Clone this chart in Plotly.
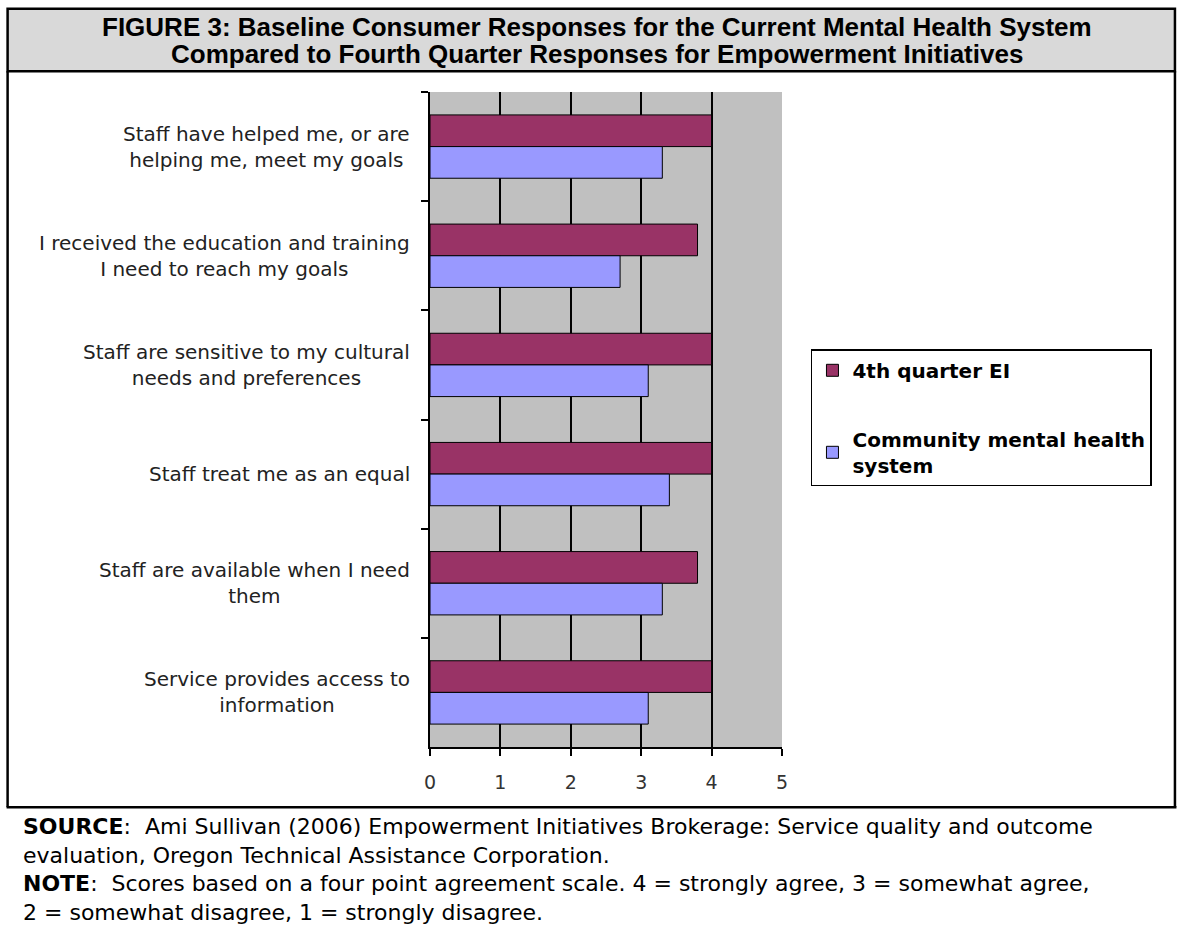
import plotly.graph_objects as go

# ---- data (top-to-bottom order as in the chart) ----
categories = [
    "Staff have helped me, or are<br>helping me, meet my goals",
    "I received the education and training<br>I need to reach my goals",
    "Staff are sensitive to my cultural<br>needs and preferences",
    "Staff treat me as an equal",
    "Staff are available when I need<br>them",
    "Service provides access to<br>information",
]
fourth_quarter_ei = [4.0, 3.8, 4.0, 4.0, 3.8, 4.0]
community_mhs = [3.3, 2.7, 3.1, 3.4, 3.3, 3.1]
x_ticks = [0, 1, 2, 3, 4, 5]

title_lines = [
    "FIGURE 3: Baseline Consumer Responses for the Current Mental Health System",
    "Compared to Fourth Quarter Responses for Empowerment Initiatives",
]
footer_lines = [
    "<b>SOURCE</b>:  Ami Sullivan (2006) Empowerment Initiatives Brokerage: Service quality and outcome",
    "evaluation, Oregon Technical Assistance Corporation.",
    "<b>NOTE</b>:  Scores based on a four point agreement scale. 4 = strongly agree, 3 = somewhat agree,",
    "2 = somewhat disagree, 1 = strongly disagree.",
]

# ---- layout geometry (pixels) ----
W, Hh = 1177, 928
L, R, T, B = 429.5, 782.0, 91.7, 746.7
PW, PH = R - L, B - T


def px(x):
    return (x - L) / PW


def py(y):
    return (B - y) / PH


fig = go.Figure()
fig.add_trace(go.Bar(
    y=categories, x=fourth_quarter_ei, orientation="h", name="4th quarter EI",
    marker=dict(color="#993366", line=dict(color="black", width=1)),
    legendgroup="a",
))
fig.add_trace(go.Bar(
    y=categories, x=community_mhs, orientation="h",
    name="Community mental health<br>system",
    marker=dict(color="#9999FF", line=dict(color="black", width=1)),
    legendgroup="b",
))

shapes = [
    # title band
    dict(type="rect", xref="paper", yref="paper", x0=px(6.5), x1=px(1175.5), y0=py(8.5), y1=py(71),
         fillcolor="#D9D9D9", line=dict(color="black", width=2.5), layer="below"),
    # chart frame sides
    dict(type="line", xref="paper", yref="paper", x0=px(6.5), x1=px(6.5), y0=py(71), y1=py(807),
         line=dict(color="black", width=2.5)),
    dict(type="line", xref="paper", yref="paper", x0=px(1175.5), x1=px(1175.5), y0=py(71), y1=py(807),
         line=dict(color="black", width=2.5)),
    # separator above footer
    dict(type="line", xref="paper", yref="paper", x0=px(5.5), x1=px(1177), y0=py(807), y1=py(807),
         line=dict(color="black", width=2.5)),
]

annotations = []
title_pos = [(597, 26.5), (597, 54)]
for txt, (cx, cy) in zip(title_lines, title_pos):
    annotations.append(dict(text="<b>" + txt + "</b>", xref="paper", yref="paper", x=px(cx), y=py(cy),
                            xanchor="center", yanchor="middle", showarrow=False,
                            font=dict(family="Liberation Sans, Arial", size=26, color="black")))
annotations.append(dict(text="<br>".join(footer_lines), xref="paper", yref="paper",
                        x=px(20), y=py(869), xanchor="left", yanchor="middle", align="left",
                        showarrow=False,
                        font=dict(family="DejaVu Sans", size=22, color="black")))
for c in categories:
    annotations.append(dict(text=c, xref="paper", yref="y", x=px(411), y=c,
                            xanchor="right", yanchor="middle", align="center", showarrow=False,
                            font=dict(family="DejaVu Sans", size=20, color="#222222")))

fig.update_layout(
    width=W, height=Hh,
    margin=dict(l=L, r=W - R, t=T, b=Hh - B, pad=0),
    paper_bgcolor="white", plot_bgcolor="#C0C0C0",
    barmode="group", bargap=0.42, bargroupgap=0,
    showlegend=True,
    legend=dict(x=px(811), y=py(349), xanchor="left", yanchor="top",
                bgcolor="white", bordercolor="black", borderwidth=1.5,
                font=dict(family="DejaVu Sans", size=20, color="black", weight="bold"),
                tracegroupgap=40, traceorder="grouped"),
    shapes=shapes, annotations=annotations,
    xaxis=dict(range=[0, 5], tickvals=x_ticks, ticktext=[str(v) for v in x_ticks],
               showgrid=True, gridcolor="black", gridwidth=1.5,
               showline=True, linecolor="black", linewidth=1.5,
               ticks="outside", ticklen=7, tickwidth=1.5, tickcolor="black",
               ticklabelstandoff=10,
               tickfont=dict(family="DejaVu Sans", size=19, color="#333333"),
               zeroline=False, fixedrange=True),
    yaxis=dict(categoryorder="array", categoryarray=categories, autorange="reversed",
               showticklabels=False, showgrid=False,
               showline=True, linecolor="black", linewidth=1.5,
               ticks="outside", tickson="boundaries", ticklen=7, tickwidth=1.5, tickcolor="black",
               zeroline=False, fixedrange=True),
)

fig.write_html("out.html", config={"displayModeBar": False},
               post_script="document.body.style.margin='0px';")
